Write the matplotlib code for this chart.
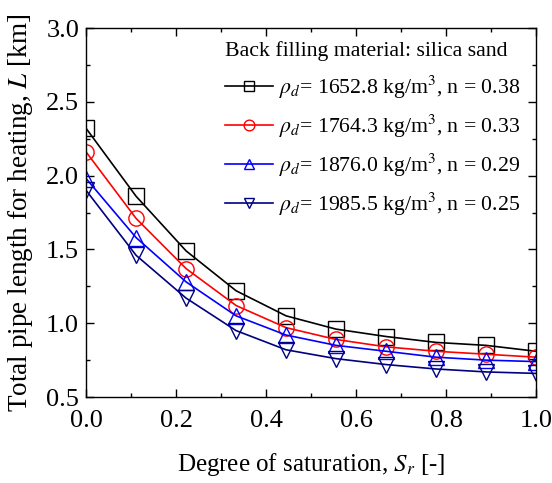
import numpy as np
import matplotlib
matplotlib.use('Agg')
import matplotlib.pyplot as plt

# ------------------------
# data
# ------------------------
sr = [0.0, 1/9, 2/9, 3/9, 4/9, 5/9, 6/9, 7/9, 8/9, 1.0]

L_1652 = [2.32, 1.86, 1.49, 1.22, 1.05, 0.96, 0.91, 0.87, 0.85, 0.81]
L_1764 = [2.16, 1.71, 1.37, 1.12, 0.97, 0.89, 0.84, 0.81, 0.79, 0.77]
L_1876 = [1.98, 1.58, 1.28, 1.05, 0.92, 0.85, 0.81, 0.77, 0.75, 0.74]
L_1985 = [1.90, 1.46, 1.17, 0.95, 0.82, 0.76, 0.72, 0.69, 0.67, 0.66]

labels = [r'$\rho_d$= 1652.8 kg/m$^3$, n = 0.38',
          r'$\rho_d$= 1764.3 kg/m$^3$, n = 0.33',
          r'$\rho_d$= 1876.0 kg/m$^3$, n = 0.29',
          r'$\rho_d$= 1985.5 kg/m$^3$, n = 0.25']
# ------------------------

plt.rcParams['font.family'] = 'Liberation Serif'
plt.rcParams['mathtext.fontset'] = 'stix'

series = [L_1652, L_1764, L_1876, L_1985]
colors = ['black', 'red', 'blue', '#000080']
markers = ['s', 'o', '^', 'v']

fig = plt.figure(figsize=(5.52, 4.83), dpi=100)
ax = fig.add_axes([0.156, 0.178, 0.815, 0.764])

for y, c, m, lab in zip(series, colors, markers, labels):
    ax.plot(sr, y, color=c, lw=1.2, marker=m, ms=11, mfc='none',
            mec=c, mew=1.0, label=lab)

ax.set_xlim(0, 1.0)
ax.set_ylim(0.5, 3.0)
ax.set_xticks(np.arange(0, 1.01, 0.2))
ax.set_xticks(np.arange(0, 1.01, 0.1), minor=True)
ax.set_yticks(np.arange(0.5, 3.01, 0.5))
ax.set_yticks(np.arange(0.5, 3.01, 0.25), minor=True)
ax.xaxis.set_major_formatter(matplotlib.ticker.FormatStrFormatter('%.1f'))
ax.yaxis.set_major_formatter(matplotlib.ticker.FormatStrFormatter('%.1f'))
ax.tick_params(which='both', direction='in', top=True, right=True, labelsize=19, width=1)
ax.tick_params(which='major', length=6)
ax.tick_params(which='minor', length=3)
ax.tick_params(axis='x', pad=9)
ax.tick_params(axis='y', pad=5)
for s in ax.spines.values():
    s.set_linewidth(1.0)

ax.set_xlabel(r'Degree of saturation, $S_r$ [-]', fontsize=18, labelpad=14)
ax.set_ylabel(r'Total pipe length for heating, $L$ [km]', fontsize=19.5, labelpad=8)

leg = ax.legend(loc='upper right', bbox_to_anchor=(1.0, 1.005), frameon=False,
                fontsize=15.7, title='Back filling material: silica sand',
                title_fontsize=15.7, alignment='left', markerscale=0.7,
                handlelength=2.2, handletextpad=0.3, labelspacing=0.55,
                borderaxespad=0.3)

fig.savefig('out.png')
